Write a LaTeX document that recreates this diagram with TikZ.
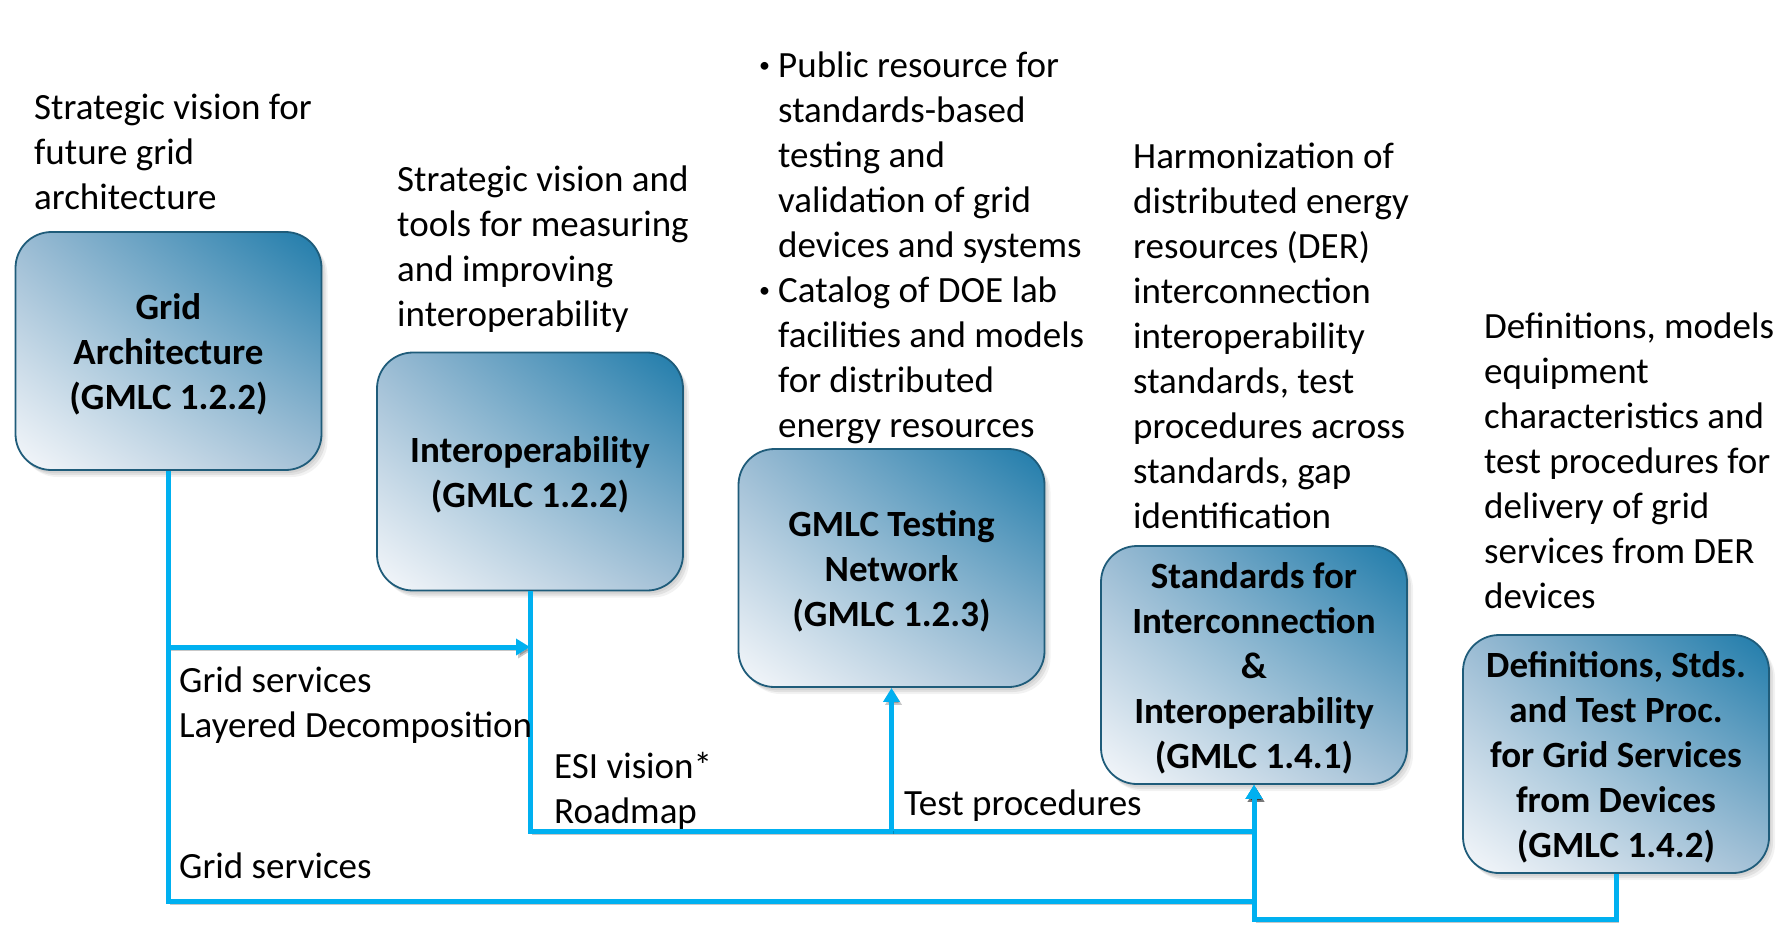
\documentclass[tikz,border=0pt]{standalone}
\usepackage{fontspec}
\setmainfont{Carlito}
\usetikzlibrary{arrows.meta,shadows,shadings}
\definecolor{lineblue}{HTML}{00B0F0}
\definecolor{boxedge}{HTML}{1F5C7A}
\definecolor{cUR}{HTML}{1E7BAA}
\definecolor{cUL}{HTML}{9ABBD3}
\definecolor{cLR}{HTML}{A3C0D6}
\definecolor{cLL}{HTML}{F6F8FB}
\newcommand{\bigfont}{\fontsize{37}{45}\selectfont}
\newcommand{\smallbullet}{\makebox[19pt][l]{\fontsize{22}{45}\selectfont\raisebox{5pt}{\textbullet}}}
\newcommand{\boxtext}[1]{\begin{tabular}{@{}c@{}}\rule{0pt}{40pt}#1\end{tabular}}
\begin{document}
\begin{tikzpicture}[x=1pt,y=-1pt,
 gbox/.style={rectangle, rounded corners=36pt, draw=boxedge, line width=1.8pt,
   minimum width=306pt, minimum height=238pt, inner sep=0pt,
   upper left=cUL, upper right=cUR, lower left=cLL, lower right=cLR,
   drop shadow={shadow xshift=6pt, shadow yshift=-7pt, opacity=0.10},
   drop shadow={shadow xshift=4pt, shadow yshift=-5pt, opacity=0.15},
   drop shadow={shadow xshift=2pt, shadow yshift=-3pt, opacity=0.15},
   font=\bigfont\bfseries},
 desc/.style={anchor=base west, inner sep=0pt, font=\bigfont},
 conn/.style={draw=lineblue, line width=5pt,
   preaction={draw=black, opacity=0.22, transform canvas={xshift=2pt,yshift=-3pt}}},
 tip/.style={-{Triangle[length=14pt,width=16pt]}}
]
\useasboundingbox (0,0) rectangle (1787,930);
\node[gbox] (b1) at (168.5,351) {\boxtext{Grid\\Architecture\\(GMLC 1.2.2)}};
\node[gbox] (b2) at (530,471.5) {\boxtext{Interoperability\\(GMLC 1.2.2)}};
\node[gbox] (b3) at (891.5,568) {\boxtext{GMLC Testing\\Network\\(GMLC 1.2.3)}};
\node[gbox] (b4) at (1254,665) {\boxtext{Standards for\\Interconnection\\\&\\Interoperability\\(GMLC 1.4.1)}};
\node[gbox] (b5) at (1616,754) {\boxtext{Definitions, Stds.\\and Test Proc.\\for Grid Services\\from Devices\\(GMLC 1.4.2)}};

\coordinate (yA) at (0,647);
\coordinate (yB) at (0,831);
\coordinate (yC) at (0,901);
\coordinate (yD) at (0,919);

\draw[conn,tip] (b1.south) |- (b4.south |- yC) -- (b4.south);
\draw[conn,tip] (b1.south |- yA) -- (b2.south |- yA);
\draw[conn,tip] (b2.south) |- (b4.south |- yB) -- (b4.south);
\draw[conn,tip] (b3.south |- yB) -- (b3.south);
\draw[conn,tip] (b5.south) |- (b4.south |- yD) -- (b4.south);

\node[desc] (t1) at (34,119.5) {\begin{tabular}[t]{@{}l@{}}Strategic vision for\\future grid\\architecture\end{tabular}};
\node[desc] (t2) at (397,191.5) {\begin{tabular}[t]{@{}l@{}}Strategic vision and\\tools for measuring\\and improving\\interoperability\end{tabular}};
\node[desc] (t3) at (759,77.5) {\begin{tabular}[t]{@{}l@{}l@{}}\smallbullet&Public resource for\\&standards-based\\&testing and\\&validation of grid\\&devices and systems\\\smallbullet&Catalog of DOE lab\\&facilities and models\\&for distributed\\&energy resources\end{tabular}};
\node[desc] (t4) at (1133,168.5) {\begin{tabular}[t]{@{}l@{}}Harmonization of\\distributed energy\\resources (DER)\\interconnection\\interoperability\\standards, test\\procedures across\\standards, gap\\identification\end{tabular}};
\node[desc] (t5) at (1484,338.5) {\begin{tabular}[t]{@{}l@{}}Definitions, models\\equipment\\characteristics and\\test procedures for\\delivery of grid\\services from DER\\devices\end{tabular}};

\node[desc] (l1) at (179,692.5) {\begin{tabular}[t]{@{}l@{}}Grid services\\Layered Decomposition\end{tabular}};
\node[desc] (l2) at (554,778.5) {\begin{tabular}[t]{@{}l@{}}ESI vision*\\Roadmap\end{tabular}};
\node[desc] (l3) at (904,815.5) {Test procedures};
\node[desc] (l4) at (179,878.5) {Grid services};
\end{tikzpicture}
\end{document}
